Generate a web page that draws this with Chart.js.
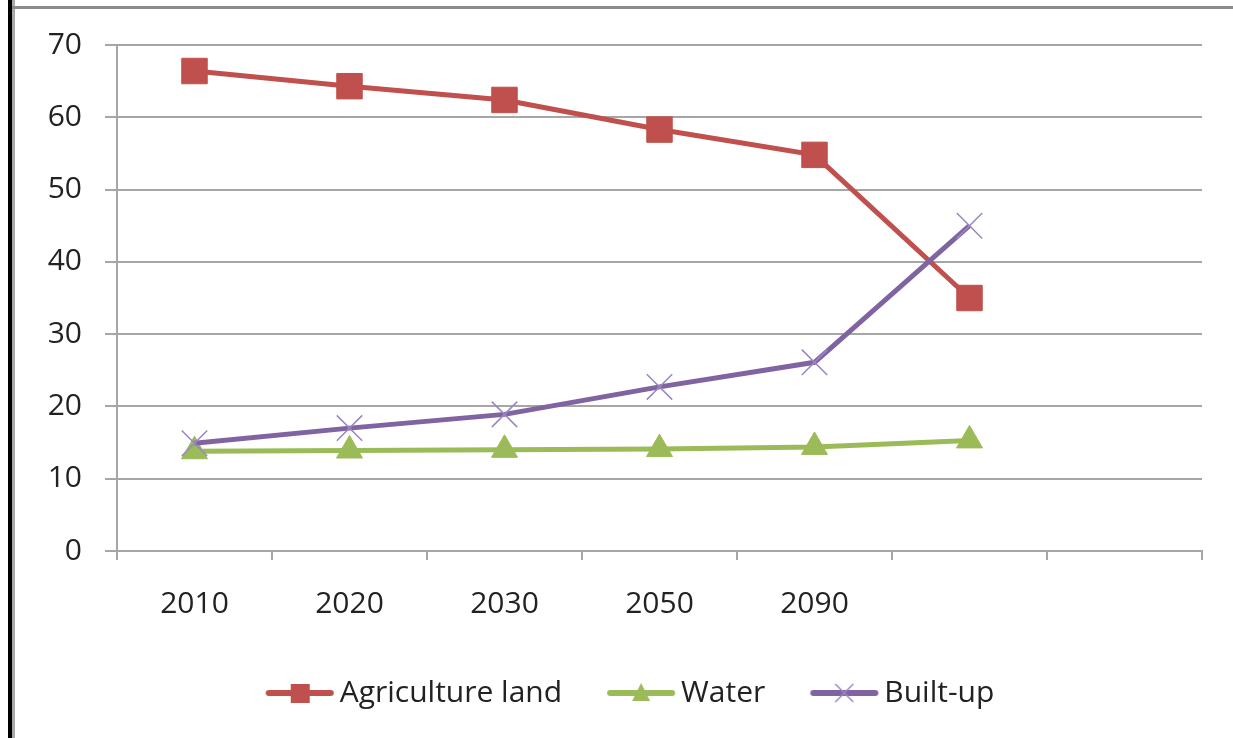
<!DOCTYPE html>
<html lang="en">
<head>
    <meta charset="UTF-8">
    <title>Land use projection</title>
    <script src="https://cdn.jsdelivr.net/npm/chart.js"></script>
    <style>
        body {
            margin: 0;
            background-color: #ffffff;
            font-family: "Open Sans", sans-serif;
        }
        #wrap {
            position: relative;
            width: 1233px;
            height: 738px;
            overflow: hidden;
        }
        canvas {
            position: absolute;
            left: 0;
            top: 0;
        }
        .edge {
            position: absolute;
            pointer-events: none;
        }
    </style>
</head>
<body>
    <div id="wrap">
        <canvas id="landChart" width="1233" height="738"></canvas>
        <div class="edge" style="left:8px;top:0;width:4px;height:738px;background:#000;"></div>
        <div class="edge" style="left:12px;top:0;width:3px;height:738px;background:#a8a8a8;"></div>
        <div class="edge" style="left:12px;top:6px;width:1221px;height:3px;background:#8c8c8c;"></div>
    </div>

    <script>
        // categories (last two slots have no label in the original)
        const years = ['2010', '2020', '2030', '2050', '2090', '', ''];

        // series values
        const agricultureLand = [66.4, 64.3, 62.4, 58.3, 54.8, 35.0];
        const water = [13.8, 13.9, 14.0, 14.1, 14.4, 15.3];
        const builtUp = [14.9, 17.0, 18.9, 22.7, 26.1, 45.0];

        const yTicks = [0, 10, 20, 30, 40, 50, 60, 70];

        const RED = '#C0504D';
        const GREEN = '#9BBB59';
        const PURPLE = '#8064A2';
        const GRID = '#a6a6a6';
        const FONT = { family: '"Open Sans", sans-serif', size: 30 };

        // little "line + marker" pictures for the legend, like the spreadsheet legend
        function legendIcon(color, marker) {
            const c = document.createElement('canvas');
            c.width = 70;
            c.height = 32;
            const g = c.getContext('2d');
            g.strokeStyle = color;
            g.lineWidth = 6;
            g.lineCap = 'round';
            g.beginPath();
            g.moveTo(4, 16);
            g.lineTo(66, 16);
            g.stroke();
            g.fillStyle = color;
            if (marker === 'rect') {
                g.fillRect(26, 7, 19, 19);
            } else if (marker === 'triangle') {
                g.beginPath();
                g.moveTo(35, 6);
                g.lineTo(44, 24);
                g.lineTo(26, 24);
                g.closePath();
                g.fill();
            } else {
                g.strokeStyle = '#9a86c6';
                g.lineWidth = 1.5;
                g.lineCap = 'butt';
                g.beginPath();
                g.moveTo(26, 7); g.lineTo(44, 25);
                g.moveTo(44, 7); g.lineTo(26, 25);
                g.stroke();
            }
            return c;
        }

        const icons = [
            legendIcon(RED, 'rect'),
            legendIcon(GREEN, 'triangle'),
            legendIcon(PURPLE, 'cross')
        ];

        // y labels stick out left of the (narrow) y scale box; widen its clip area
        const widenYLabels = {
            id: 'widenYLabels',
            afterLayout(chart) {
                chart.scales.y.left = 0;
            }
        };

        const ctx = document.getElementById('landChart').getContext('2d');
        new Chart(ctx, {
            type: 'line',
            data: {
                labels: years,
                datasets: [
                    {
                        label: 'Agriculture land',
                        data: agricultureLand,
                        borderColor: RED,
                        backgroundColor: RED,
                        borderWidth: 5,
                        pointStyle: 'rect',
                        pointRadius: 18,
                        pointBorderWidth: 1,
                        pointBackgroundColor: RED,
                        pointBorderColor: RED,
                        order: 2
                    },
                    {
                        label: 'Water',
                        data: water,
                        borderColor: GREEN,
                        backgroundColor: GREEN,
                        borderWidth: 5,
                        pointStyle: 'triangle',
                        pointRadius: 15,
                        pointBorderWidth: 1,
                        pointBackgroundColor: GREEN,
                        pointBorderColor: GREEN,
                        order: 1
                    },
                    {
                        label: 'Built-up',
                        data: builtUp,
                        borderColor: PURPLE,
                        backgroundColor: PURPLE,
                        borderWidth: 5,
                        pointStyle: 'crossRot',
                        pointRadius: 18,
                        pointBorderWidth: 1.5,
                        pointBorderColor: '#9a86c6',
                        order: 0
                    }
                ]
            },
            plugins: [widenYLabels],
            options: {
                responsive: false,
                animation: false,
                layout: {
                    padding: { left: 67, right: 31, top: 45, bottom: 20 }
                },
                scales: {
                    x: {
                        offset: true,
                        grid: {
                            offset: true,
                            drawOnChartArea: false,
                            drawTicks: true,
                            tickLength: 9,
                            color: GRID,
                            lineWidth: 2
                        },
                        border: { color: GRID, width: 2 },
                        ticks: {
                            color: '#222',
                            font: FONT,
                            padding: 26,
                            maxRotation: 0,
                            autoSkip: false
                        },
                        afterFit(scale) { scale.height = 73; }
                    },
                    y: {
                        min: 0,
                        max: 70,
                        afterBuildTicks(scale) {
                            scale.ticks = yTicks.map(v => ({ value: v }));
                        },
                        grid: {
                            color: GRID,
                            lineWidth: 2,
                            tickLength: 12
                        },
                        border: { color: GRID, width: 2 },
                        ticks: {
                            color: '#222',
                            font: FONT,
                            padding: 23
                        },
                        afterFit(scale) { scale.width = 50; }
                    }
                },
                plugins: {
                    tooltip: { enabled: false },
                    legend: {
                        position: 'bottom',
                        labels: {
                            usePointStyle: true,
                            pointStyleWidth: 50,
                            padding: 54,
                            color: '#222',
                            font: FONT,
                            sort: (a, b) => a.datasetIndex - b.datasetIndex,
                            generateLabels(chart) {
                                const items = Chart.defaults.plugins.legend.labels.generateLabels(chart);
                                items.forEach(it => { it.pointStyle = icons[it.datasetIndex]; });
                                return items;
                            }
                        }
                    }
                }
            }
        });
    </script>
</body>
</html>
